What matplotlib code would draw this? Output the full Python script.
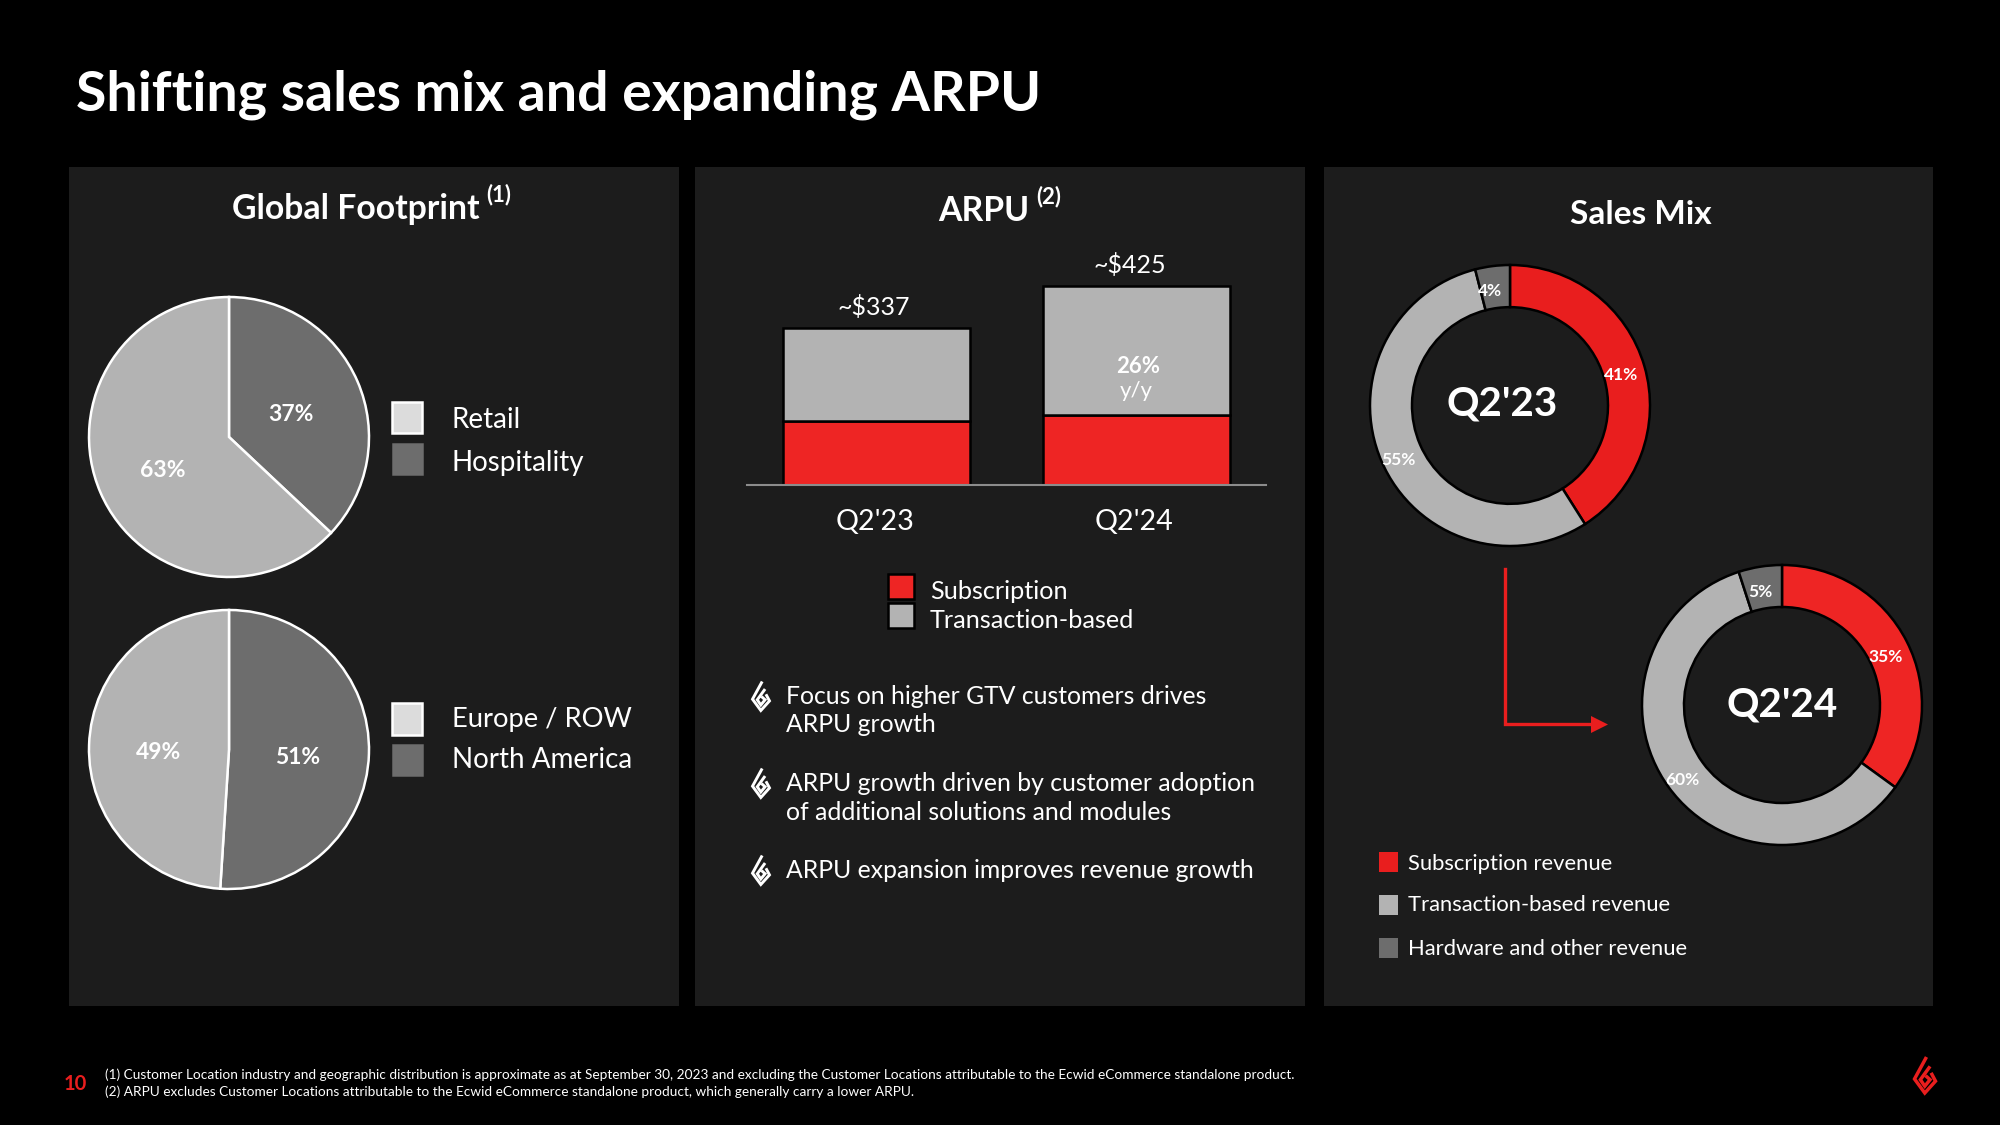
import matplotlib
matplotlib.use("Agg")
import matplotlib.pyplot as plt
from matplotlib.patches import Rectangle, Polygon

plt.rcParams['font.family'] = ['Lato', 'DejaVu Sans']

W, H = 2000, 1125

# ---------- data ----------
title = "Shifting sales mix and expanding ARPU"
footprint_industry = [37, 63]      # Hospitality, Retail
footprint_geo = [51, 49]           # North America, Europe / ROW
quarters = ["Q2'23", "Q2'24"]
arpu_subscription = [138, 150]
arpu_transaction = [199, 275]
arpu_totals = ["~$337", "~$425"]
mix_q223 = [41, 55, 4]             # Subscription, Transaction, Hardware
mix_q224 = [35, 60, 5]
mix_labels = ["Subscription revenue", "Transaction-based revenue", "Hardware and other revenue"]
bullets = [["Focus on higher GTV customers drives", "ARPU growth"],
           ["ARPU growth driven by customer adoption", "of additional solutions and modules"],
           ["ARPU expansion improves revenue growth"]]
footnotes = ["(1) Customer Location industry and geographic distribution is approximate as at September 30, 2023 and excluding the Customer Locations attributable to the Ecwid eCommerce standalone product.",
             "(2) ARPU excludes Customer Locations attributable to the Ecwid eCommerce standalone product, which generally carry a lower ARPU."]

# ---------- colours ----------
BG = '#000000'; PANEL = '#1c1c1c'; RED = '#ee2524'; RED2 = '#e91e1e'
LIGHT = '#b3b3b3'; DARK = '#6d6d6d'; PALE = '#dcdcdc'; WHITE = '#ffffff'

fig = plt.figure(figsize=(20, 11.25), dpi=100, facecolor=BG)

def ax_px(x0, y0, x1, y1, z=5):
    a = fig.add_axes([x0 / W, 1 - y1 / H, (x1 - x0) / W, (y1 - y0) / H], zorder=z)
    return a

back = ax_px(0, 0, W, H, z=0)
back.set_xlim(0, W); back.set_ylim(H, 0); back.axis('off')
top = ax_px(0, 0, W, H, z=10)
top.set_xlim(0, W); top.set_ylim(H, 0); top.axis('off'); top.patch.set_alpha(0)

def T(x, y, s, size, weight='normal', color=WHITE, ha='left', a=top):
    a.text(x, y, s, fontsize=size, fontweight=weight, color=color, ha=ha, va='center')

# panels
for x0, x1 in [(69, 679), (695, 1305), (1324, 1933)]:
    back.add_patch(Rectangle((x0, 167), x1 - x0, 839, fc=PANEL, ec='none'))

# title
T(76, 95, title, 40, 'bold')
T(232, 209, "Global Footprint", 24.3, 'bold')
T(486, 195, "(1)", 16, 'bold')
T(938, 211, "ARPU", 24.3, 'bold')
T(1036, 197, "(2)", 16, 'bold')
T(1641, 214, "Sales Mix", 24, 'bold', ha='center')

# ---------- pies ----------
def pie(box, vals, cols, ec, lw, inner=None):
    a = ax_px(*box)
    wedgeprops = dict(edgecolor=ec, linewidth=lw, clip_on=False)
    if inner:
        wedgeprops['width'] = 1 - inner
    a.pie(vals, colors=cols, startangle=90, counterclock=False, wedgeprops=wedgeprops, radius=1)
    a.set_aspect('auto')
    a.set_xlim(-1, 1); a.set_ylim(-1, 1)
    a.axis('off')
    return a

pie((89, 297, 369, 577), footprint_industry, [DARK, LIGHT], WHITE, 1.8)
pie((89, 610, 369, 889), footprint_geo, [DARK, LIGHT], WHITE, 1.8)
for (x, y), v in zip([(291, 414.5), (162.5, 470.5)], footprint_industry):
    T(x, y, f"{v}%", 16.5, 'bold', ha='center')
for (x, y), v in zip([(298, 757), (158.5, 752.5)], footprint_geo):
    T(x, y, f"{v}%", 16.5, 'bold', ha='center')

for (x0, y0, x1, y1, c, e) in [(392, 402, 422, 433, PALE, WHITE), (393, 444, 422, 474, DARK, DARK),
                               (392, 703, 422, 735, PALE, WHITE), (393, 745, 422, 775, DARK, DARK)]:
    back.add_patch(Rectangle((x0, y0), x1 - x0, y1 - y0, fc=c, ec=e, lw=1.8))
T(452, 420.5, "Retail", 20)
T(452, 463.5, "Hospitality", 20)
T(452, 719.5, "Europe / ROW", 19.7)
T(452, 759.5, "North America", 20)

# ---------- bars ----------
bx = ax_px(747, 274.7, 1266, 485.3)
xs = range(len(quarters))
bx.bar(xs, arpu_subscription, 0.72, color=RED, edgecolor='black', linewidth=1.8)
bx.bar(xs, arpu_transaction, 0.72, bottom=arpu_subscription, color=LIGHT, edgecolor='black', linewidth=1.8)
bx.set_xlim(-0.5, 1.5); bx.set_ylim(0, 450)
bx.patch.set_alpha(0)
bx.set_yticks([]); bx.set_xticks([])
for s in ['top', 'left', 'right']:
    bx.spines[s].set_visible(False)
bx.spines['bottom'].set_color('#8c8c8c'); bx.spines['bottom'].set_linewidth(1.5)
T(874, 306.5, arpu_totals[0], 18, ha='center')
T(1130, 264.5, arpu_totals[1], 18, ha='center')
T(1138, 366.5, "26%", 16, 'bold', ha='center')
T(1136, 391, "y/y", 16, 'normal', ha='center')
T(875, 521.5, quarters[0], 20.6, ha='center')
T(1134, 521.5, quarters[1], 20.6, ha='center')

for (y0, y1, c) in [(574, 599, RED), (603, 628, LIGHT)]:
    back.add_patch(Rectangle((888, y0), 26, y1 - y0, fc=c, ec='black', lw=1.8))
T(930, 591.5, "Subscription", 18.2)
T(930, 620.5, "Transaction-based", 18.2)

# bullets + logos
def logo(cx, top_y, w, h, color, lw):
    def P(pts):
        top.plot([cx + (u - .5) * w for u, v in pts], [top_y + v * h for u, v in pts],
                 color=color, lw=lw, solid_joinstyle='miter', solid_capstyle='butt')
    P([(.57, 0), (0, .61), (.49, 1), (1, .67), (.79, .44)])
    P([(.74, .26), (.28, .63), (.49, .81), (.74, .63), (.53, .52)])

y_lines = [[696.5, 725], [783.5, 812.5], [870.5]]
for lines, ys in zip(bullets, y_lines):
    logo(761, ys[0] - 15, 17, 29, WHITE, 2.1)
    for s, y in zip(lines, ys):
        T(786, y, s, 17.85)

# ---------- donuts ----------
pie((1370, 265, 1650, 546), mix_q223, [RED2, LIGHT, DARK], 'black', 1.8, inner=0.7)
pie((1642, 565, 1922, 845), mix_q224, [RED, LIGHT, DARK], 'black', 1.8, inner=0.7)
for (x, y), v in zip([(1621, 375), (1398, 460), (1490, 291)], mix_q223):
    T(x, y, f"{v}%", 12.5, 'bold', ha='center')
for (x, y), v in zip([(1886, 657), (1682, 780), (1760, 592)], mix_q224):
    T(x, y, f"{v}%", 12.5, 'bold', ha='center')
T(1502.5, 404, quarters[0], 29, 'bold', ha='center')
T(1782.5, 705, quarters[1], 29, 'bold', ha='center')

# arrow
top.plot([1505, 1505, 1592], [569, 724, 724], color=RED2, lw=2.4, solid_joinstyle='miter')
top.add_patch(Polygon([(1591, 716), (1608, 724.5), (1591, 733)], fc=RED2, ec='none'))

# legend sales mix
for (y, c, s, ty) in [(862, RED2, mix_labels[0], 864), (905, LIGHT, mix_labels[1], 905), (948, DARK, mix_labels[2], 949)]:
    back.add_patch(Rectangle((1379, y - 10), 19, 20, fc=c, ec='none'))
    T(1408, ty, s, 15.85)

# footer
T(64, 1084, "10", 14.5, 'bold', color=RED2)
T(105, 1075, footnotes[0], 9.85)
T(105, 1092, footnotes[1], 9.85)
logo(1925, 1057, 21, 36, RED2, 2.5)

fig.savefig('out.png', dpi=100, facecolor=BG)
